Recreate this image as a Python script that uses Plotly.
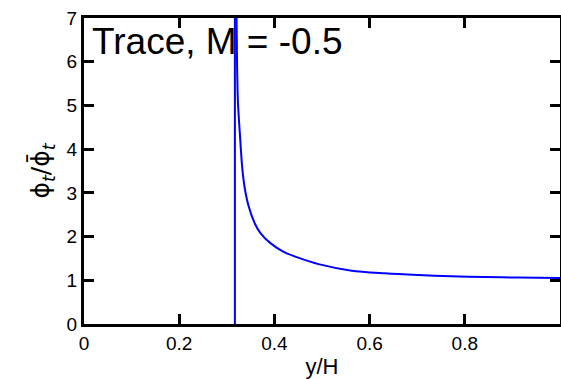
import plotly.graph_objects as go

# Data
# vertical jump at the singular point
jump_x = [0.317, 0.317]
jump_y = [0.0, 20.0]
# decaying branch
y_over_H = [0.3175, 0.3205, 0.3232, 0.3274, 0.3322, 0.3372, 0.3462, 0.3588, 0.3707,
            0.3916, 0.4195, 0.4544, 0.4927, 0.5623, 0.632, 0.702, 0.7715, 0.841,
            0.911, 1.0]
phi_ratio = [20.0, 7.0, 5.13, 4.36, 3.60, 3.14, 2.68, 2.30, 2.08,
             1.85, 1.65, 1.50, 1.37, 1.22, 1.16, 1.12, 1.09, 1.075,
             1.062, 1.055]

x_ticks = [0, 0.2, 0.4, 0.6, 0.8, 1]
x_tick_labels = ["0", "0.2", "0.4", "0.6", "0.8", "1"]
y_ticks = [0, 1, 2, 3, 4, 5, 6, 7]

title_text = "Trace, M = -0.5"

FONT = "Liberation Sans, Arial, sans-serif"

fig = go.Figure()
fig.add_trace(go.Scatter(x=jump_x, y=jump_y, mode="lines",
                         line=dict(color="#0000ff", width=2), showlegend=False))
fig.add_trace(go.Scatter(x=y_over_H, y=phi_ratio, mode="lines",
                         line=dict(color="#0000ff", width=2, shape="spline",
                                   smoothing=0.8),
                         showlegend=False))

axis_common = dict(showgrid=False, zeroline=False, showline=True, linecolor="black",
                   linewidth=3, ticks="inside", ticklen=10, tickwidth=2.5,
                   tickcolor="black", mirror="ticks",
                   tickfont=dict(family=FONT, size=19, color="black"))

fig.update_xaxes(range=[0, 1], tickvals=x_ticks, ticktext=x_tick_labels,
                 title=dict(text="y/H", font=dict(family=FONT, size=22, color="black"),
                            standoff=6),
                 **axis_common)
fig.update_yaxes(range=[0, 7], tickvals=y_ticks,
                 title=dict(text="ϕ<sub><i>t</i></sub>/ϕ̄<sub><i>t</i></sub>",
                            font=dict(family="DejaVu Sans, sans-serif", size=25,
                                      color="black"),
                            standoff=10),
                 **axis_common)

fig.add_annotation(text=title_text, xref="paper", yref="paper", x=0.012, y=0.924,
                   xanchor="left", yanchor="middle", showarrow=False,
                   font=dict(family=FONT, size=37, color="black"))

fig.update_layout(width=565, height=379, margin=dict(l=84, r=2, t=18, b=55),
                  plot_bgcolor="white", paper_bgcolor="white")

fig.write_html("out.html")
